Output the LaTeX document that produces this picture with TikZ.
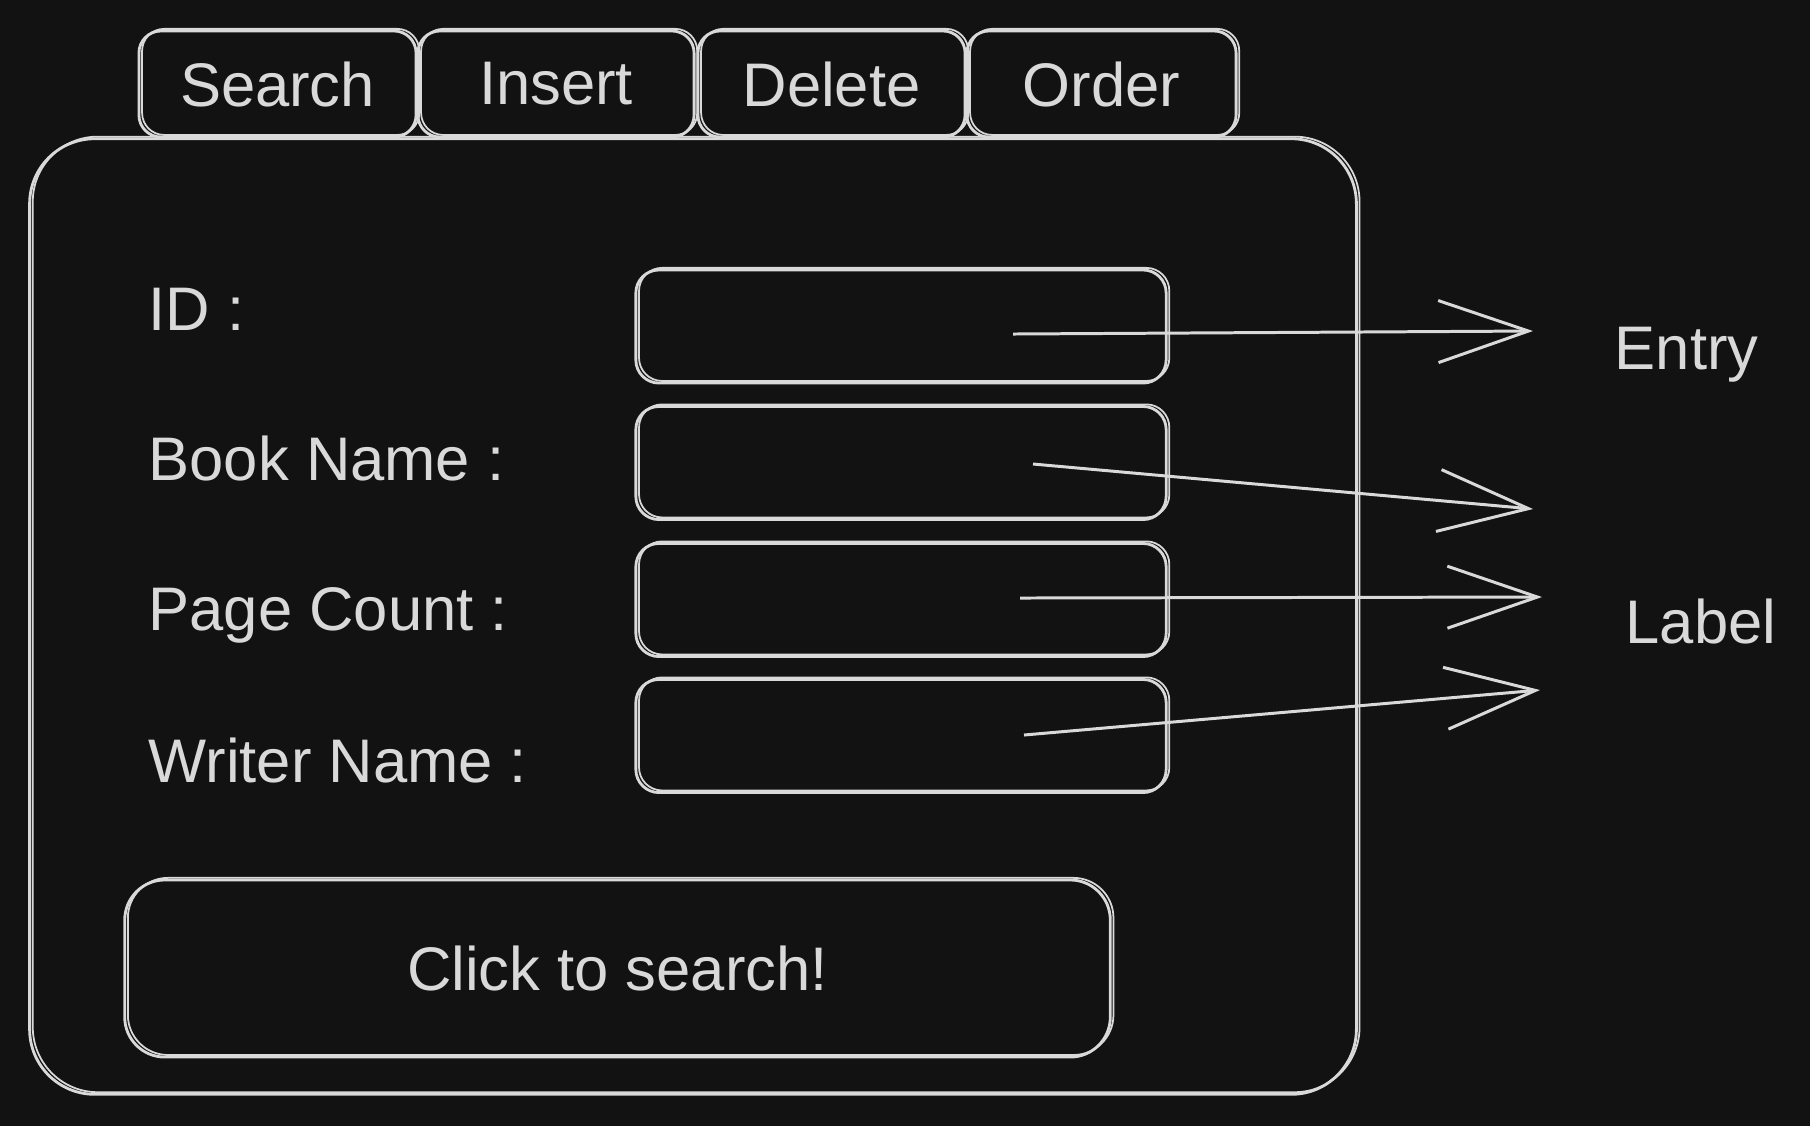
\documentclass[tikz,border=0pt]{standalone}
\usepackage{fontspec}
\setmainfont{Liberation Sans}
\usetikzlibrary{positioning,arrows.meta}
\definecolor{bgdark}{HTML}{121212}
\definecolor{chalk}{HTML}{D9D9D9}

\begin{document}
\begin{tikzpicture}[
  x=0.01cm, y=-0.01cm,
  every node/.style={font=\fontsize{17.5}{21}\selectfont, text=chalk},
  sketch/.style={draw=chalk, line width=0.8pt, rounded corners=4mm,
    preaction={draw=chalk, line width=0.5pt, transform canvas={shift={(0.9pt,0.6pt)}}}},
  tab/.style={sketch, rounded corners=2.2mm, minimum height=1.06cm, inner sep=0pt},
  entrybox/.style={sketch, rounded corners=2.3mm, minimum width=5.3cm, minimum height=1.13cm},
  lbl/.style={anchor=base west, inner sep=0pt},
  arr/.style={chalk, line width=0.85pt, -{Straight Barb[length=9mm,width=6.2mm]}}
]
\fill[bgdark] (0,0) rectangle (1810,1126);
\useasboundingbox (0,0) rectangle (1810,1126);

% window and tabs
\node[sketch, rounded corners=6.5mm, minimum width=13.26cm, minimum height=9.55cm] (frame) at (693,616.5) {};
\node[tab, minimum width=2.77cm] (search) at (277.5,84) {Search};
\node[tab, minimum width=2.76cm] (insert) at (556,84) {Insert};
\node[tab, minimum width=2.67cm] (delete) at (831.5,84) {Delete};
\node[tab, minimum width=2.69cm] (order) at (1101.5,84) {Order};

% form rows
\node[lbl] (idlbl) at (148,330) {ID :};
\node[lbl] (booklbl) at (148,480) {Book Name :};
\node[lbl] (pagelbl) at (148,630) {Page Count :};
\node[lbl] (writerlbl) at (148,782) {Writer Name :};

\node[entrybox] (idbox) at (901,326.5) {};
\node[entrybox] (bookbox) at (901,463) {};
\node[entrybox] (pagebox) at (901,600) {};
\node[entrybox] (writerbox) at (901,736) {};

\node[sketch, minimum width=9.85cm, minimum height=1.77cm] (searchbtn) at (617.5,968.5) {Click to search!};

% legend
\node[lbl] (entrylbl) at (1614,369) {Entry};
\node[lbl] (labellbl) at (1625,643) {Label};

\coordinate (a1s) at (1013,334);
\coordinate (a1e) at (1533,331);
\coordinate (a2s) at (1033,464);
\coordinate (a2e) at (1533,509);
\coordinate (a3s) at (1020,598);
\coordinate (a3e) at (1542,597);
\coordinate (a4s) at (1024,735);
\coordinate (a4e) at (1540,690);

\draw[arr] (a1s) -- (a1e);
\draw[arr] (a2s) -- (a2e);
\draw[arr] (a3s) -- (a3e);
\draw[arr] (a4s) -- (a4e);
\end{tikzpicture}
\end{document}
